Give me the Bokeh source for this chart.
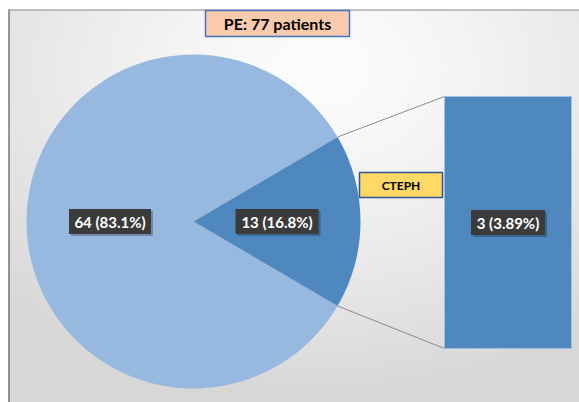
import numpy as np
from bokeh.plotting import figure
from bokeh.models import Range1d, ColumnDataSource
from bokeh.core.properties import value
from bokeh.transform import dodge
from bokeh.embed import file_html
from bokeh.resources import INLINE

# ---- data ----
title_text = "PE: 77 patients"
pie_categories = ["No CTEPH", "CTEPH group"]
pie_values = [64, 13]
pie_labels = ["64 (83.1%)", "13 (16.8%)"]
bar_categories = ["CTEPH"]
bar_values = [3]
bar_labels = ["3 (3.89%)"]
callout_text = "CTEPH"

# ---- layout / style ----
W, H = 579, 402
light_blue = "#97B9E0"
dark_blue = "#4F88BE"
CX, CY, R = 193, 181, 167
BAR_L, BAR_R, BAR_B, BAR_T = 444, 571, 54, 306
FX, FTOP = 8, 393  # frame left x, frame top y (data)
FONT = value("Lato")

p = figure(width=W, height=H, output_backend="svg", toolbar_location=None,
           x_range=Range1d(0, W), y_range=Range1d(0, H), min_border=0)
p.axis.visible = False
p.grid.visible = False
p.outline_line_color = None
p.background_fill_color = "white"
p.border_fill_color = "white"

# background radial gradient inside frame
GW, GH = W - FX, FTOP
yy, xx = np.mgrid[0:GH, 0:GW]
page_x = xx + FX
page_y = H - yy
d = np.sqrt(((page_x - 320) / 450.0) ** 2 + ((page_y - 70) / 330.0) ** 2)
d = np.clip(d, 0, 1)
g = (253 - 38 * d ** 1.3).astype(np.uint32)
img = (255 << 24) | (g << 16) | (g << 8) | g
p.image_rgba(image=[img.astype(np.uint32)], x=FX, y=0, dw=GW, dh=GH)

# frame lines (left dark, top gray)
p.segment(x0=[FX + 0.5], y0=[0], x1=[FX + 0.5], y1=[FTOP], line_color="#404040", line_width=1)
p.segment(x0=[FX], y0=[FTOP - 0.5], x1=[W], y1=[FTOP - 0.5], line_color="#8c8c8c", line_width=1)

# pie
total = sum(pie_values)
frac = [v / total for v in pie_values]
half = frac[1] * np.pi
starts = [half, -half]
ends = [2 * np.pi - half, half]
p.wedge(x=CX, y=CY, radius=R, start_angle=starts, end_angle=ends,
        fill_color=[light_blue, dark_blue], line_color=None)

# connector lines from wedge edge to bar
ex = CX + R * np.cos(half)
ey_top = CY + R * np.sin(half)
ey_bot = CY - R * np.sin(half)
p.segment(x0=[ex, ex], y0=[ey_top, ey_bot], x1=[BAR_L, BAR_L], y1=[BAR_T, BAR_B],
          line_color="#8a8a8a", line_width=1)

# bar
p.quad(left=[BAR_L], right=[BAR_R], bottom=[BAR_B], top=[BAR_T],
       fill_color=dark_blue, line_color="#9DBFE3", line_width=1)

# data labels
mids = [np.pi, 0.0]
lx = [CX + 0.5 * R * np.cos(m) for m in mids] + [(BAR_L + BAR_R) / 2]
ly = [CY + 0.5 * R * np.sin(m) for m in mids] + [(BAR_B + BAR_T) / 2]
labels = pie_labels + bar_labels
widths = [82, 83, 74]
src = ColumnDataSource(dict(x=lx, y=ly, w=widths, t=labels))
p.rect(x=dodge("x", 2), y=dodge("y", -2), width="w", height=25, source=src,
       fill_color="black", fill_alpha=0.25, line_color=None)
p.rect(x="x", y="y", width="w", height=25, source=src,
       fill_color="#3b3b3b", line_color=None)
p.text(x="x", y="y", text="t", source=src, text_color="white", text_font=FONT,
       text_font_style="bold", text_font_size="15px", text_align="center",
       text_baseline="middle")

# title box
p.rect(x=[277], y=[379], width=144, height=26, fill_color="#F8CBAD",
       line_color="#4472C4", line_width=1.5)
p.text(x=[277], y=[379], text=[title_text], text_font=FONT, text_font_style="bold",
       text_font_size="16px", text_color="black", text_align="center",
       text_baseline="middle")

# callout box
p.rect(x=[400.5], y=[217.5], width=83, height=25, fill_color="#FFD966",
       line_color="#2F5597", line_width=1.5)
p.text(x=[400.5], y=[217.5], text=[callout_text], text_font=FONT, text_font_style="bold",
       text_font_size="12px", text_color="black", text_align="center",
       text_baseline="middle")

open("out.html", "w").write(file_html(p, INLINE))
